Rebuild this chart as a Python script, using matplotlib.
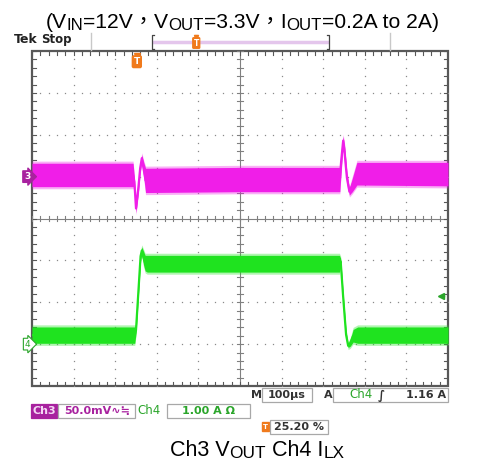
import matplotlib
matplotlib.use('Agg')
import matplotlib.pyplot as plt
import numpy as np
from matplotlib.patches import Rectangle
from matplotlib.transforms import blended_transform_factory

# ---------------- data ----------------
time_div_us = 100          # M 100us
n_xdiv, n_ydiv = 10, 8
ch3_mv_div = 50.0          # Ch3 50.0 mV/div
ch4_a_div = 1.0            # Ch4 1.00 A/div
ch3_pos_div = 1            # Ch3 ground marker position (div above centre)
ch4_pos_div = -3           # Ch4 ground marker position
trig_level_a = 1.16
trig_pos_pct = 25.20

# Ch3 VOUT ripple envelope (us, mV)
ch3_t  = [0, 243, 246, 250, 256, 260, 264, 268, 273, 500, 740, 743, 748, 752, 757, 763, 770, 781, 1000]
ch3_hi = [16, 16, 0, -33, -5, 15, 26, 18, 10, 11, 11, 30, 48, 35, 5, -14, -2, 17, 17]
ch3_lo = [-12, -12, -12, -43, -18, 5, 18, 2, -19, -18, -18, 5, 38, 15, -8, -22, -18, -10, -11]

# Ch4 ILX envelope (us, A)
ch4_t  = [0, 247, 250, 256, 261, 264, 268, 272, 277, 739, 742, 748, 755, 760, 765, 772, 783, 1000]
ch4_hi = [0.41, 0.41, 0.42, 1.40, 2.20, 2.32, 2.22, 2.12, 2.12, 2.12, 2.05, 1.20, 0.30, 0.00, 0.10, 0.35, 0.41, 0.41]
ch4_lo = [0.02, 0.02, 0.25, 1.20, 2.00, 2.15, 1.90, 1.75, 1.72, 1.72, 1.90, 1.05, 0.15, -0.08, -0.05, 0.05, 0.02, 0.02]

title_pieces = [("(V", 0), ("IN", 1), ("=12V，V", 0), ("OUT", 1), ("=3.3V，I", 0), ("OUT", 1), ("=0.2A to 2A)", 0)]
caption_pieces = [("Ch3 V", 0), ("OUT", 1), (" Ch4 I", 0), ("LX", 1)]

# ---------------- figure ----------------
W, H = 478, 463
fig = plt.figure(figsize=(W / 100, H / 100), dpi=100)
fig.patch.set_facecolor('white')

def fx(x):
    return x / W

def fy(y):
    return 1 - y / H

L, T, R, B = 32, 51, 448, 386
rect = [fx(L), fy(B), (R - L) / W, (B - T) / H]

MAG = '#f01ee8'
MAGD = '#a8229f'
GRN = '#1fe31f'
GRND = '#2aa52a'
ORG = '#f07a1c'
GRID = '#8a8a8a'
FRAME = '#585858'

# graticule
ax_g = fig.add_axes(rect)
ax_g.set_xlim(0, n_xdiv)
ax_g.set_ylim(0, n_ydiv)
ax_g.axis('off')
sub = 0.2
for k in range(1, n_xdiv):
    if k == n_xdiv // 2:
        continue
    ys = np.arange(0, n_ydiv + 1e-9, sub)
    ax_g.plot(np.full_like(ys, k), ys, ls='none', marker='s', ms=0.9, mew=0, color=GRID)
for j in range(1, n_ydiv):
    if j == n_ydiv // 2:
        continue
    xs = np.arange(0, n_xdiv + 1e-9, sub)
    ax_g.plot(xs, np.full_like(xs, j), ls='none', marker='s', ms=0.9, mew=0, color=GRID)
# centre cross with ticks
cx, cy = n_xdiv / 2, n_ydiv / 2
ax_g.plot([cx, cx], [0, n_ydiv], color='#808080', lw=0.8)
ax_g.plot([0, n_xdiv], [cy, cy], color='#808080', lw=0.8)
tl = 0.07
for y in np.arange(0, n_ydiv + 1e-9, sub):
    ax_g.plot([cx - tl, cx + tl], [y, y], color='#808080', lw=0.8)
    ax_g.plot([0, tl * 1.3], [y, y], color=FRAME, lw=0.8)
    ax_g.plot([n_xdiv - tl * 1.3, n_xdiv], [y, y], color=FRAME, lw=0.8)
for x in np.arange(0, n_xdiv + 1e-9, sub):
    ax_g.plot([x, x], [cy - tl, cy + tl], color='#808080', lw=0.8)
    ax_g.plot([x, x], [0, tl * 1.3], color=FRAME, lw=0.8)
    ax_g.plot([x, x], [n_ydiv - tl * 1.3, n_ydiv], color=FRAME, lw=0.8)
ax_g.add_patch(Rectangle((0, 0), n_xdiv, n_ydiv, fill=False, ec=FRAME, lw=1.6, clip_on=False))

# trace axes
tmax = n_xdiv * time_div_us
ax3 = fig.add_axes(rect, facecolor='none')
ax3.set_xlim(0, tmax)
ax3.set_ylim((-n_ydiv / 2 - ch3_pos_div) * ch3_mv_div, (n_ydiv / 2 - ch3_pos_div) * ch3_mv_div)
ax3.axis('off')
ax4 = fig.add_axes(rect, facecolor='none')
ax4.set_xlim(0, tmax)
ax4.set_ylim((-n_ydiv / 2 - ch4_pos_div) * ch4_a_div, (n_ydiv / 2 - ch4_pos_div) * ch4_a_div)
ax4.axis('off')

def trace(ax, t, hi, lo, col, pad):
    t = np.array(t, float); hi = np.array(hi, float); lo = np.array(lo, float)
    ax.fill_between(t, hi + pad, lo - pad, color=col, alpha=0.35, lw=0)
    ax.fill_between(t, hi, lo, color=col, lw=0)
    ax.plot(t, (hi + lo) / 2, color=col, lw=1.6)

trace(ax3, ch3_t, ch3_hi, ch3_lo, MAG, 2.5)
trace(ax4, ch4_t, ch4_hi, ch4_lo, GRN, 0.05)

# channel ground markers
bt3 = blended_transform_factory(ax3.transAxes, ax3.transData)
ax3.text(-0.004, 0, '3', transform=bt3, ha='right', va='center', fontsize=6.5, fontweight='bold', color='white',
         bbox=dict(boxstyle='rarrow,pad=0.15', fc=MAGD, ec=MAGD, lw=0.8), clip_on=False)
bt4 = blended_transform_factory(ax4.transAxes, ax4.transData)
ax4.text(-0.004, 0, '4', transform=bt4, ha='right', va='center', fontsize=6.5, color=GRND,
         bbox=dict(boxstyle='rarrow,pad=0.15', fc='white', ec=GRND, lw=0.8), clip_on=False)
# trigger level arrow
ax4.plot([0.982], [trig_level_a], transform=bt4, marker='<', ms=4, color=GRND, clip_on=False)
ax4.plot([0.982, 0.99], [trig_level_a, trig_level_a], transform=bt4, color=GRND, lw=1, clip_on=False)

# trigger position marker
tp = trig_pos_pct / 100
ax_g.plot([tp], [0.985], transform=ax_g.transAxes, marker='v', ms=4, color=ORG, clip_on=False)
ax_g.text(tp, 0.968, 'T', transform=ax_g.transAxes, ha='center', va='center', fontsize=6.5, fontweight='bold',
          color='white', bbox=dict(boxstyle='round,pad=0.15', fc=ORG, ec=ORG))

# header
fig.text(fx(14), fy(43), 'Tek', fontsize=9, fontweight='bold', color='#222222', va='baseline', ha='left',
         family='DejaVu Sans')
fig.text(fx(41), fy(43), 'Stop', fontsize=8.5, fontweight='bold', color='#222222', va='baseline', ha='left',
         family='DejaVu Sans')
for xs in (91, 390):
    fig.add_artist(plt.Line2D([fx(xs), fx(xs)], [fy(33), fy(50)], color='#c8c8c8', lw=1))
fig.add_artist(plt.Line2D([fx(154), fx(327)], [fy(42), fy(42)], color='#e4c6ec', lw=2.5))
for xb, d in ((152, 1), (329, -1)):
    fig.add_artist(plt.Line2D([fx(xb + 2 * d), fx(xb), fx(xb), fx(xb + 2 * d)], [fy(35), fy(35), fy(49), fy(49)],
                              color='#444444', lw=0.9))
xh = 152 + (329 - 152) * 0.25
fig.add_artist(plt.Line2D([fx(xh)], [fy(37)], marker='v', ms=3, color=ORG))
fig.text(fx(xh), fy(43), 'T', fontsize=5.5, fontweight='bold', color='white', ha='center', va='center',
         bbox=dict(boxstyle='round,pad=0.1', fc=ORG, ec=ORG))

# readouts
RF = dict(fontsize=8, fontweight='bold', family='DejaVu Sans', va='center')

def box(x0, x1, y, fc='white', ec='#a8a8a8'):
    fig.add_artist(Rectangle((fx(x0), fy(y + 7)), (x1 - x0) / W, 14 / H, transform=fig.transFigure,
                             fc=fc, ec=ec, lw=0.9))

y1, y2, y3 = 395, 411, 427
fig.text(fx(251), fy(y1), 'M', color='#333333', **RF)
box(262, 312, y1)
fig.text(fx(287), fy(y1), f'{time_div_us}µs', color='#333333', ha='center', **RF)
fig.text(fx(324), fy(y1), 'A', color='#333333', **RF)
box(333, 448, y1)
fig.text(fx(349), fy(y1), 'Ch4', color=GRND, fontsize=8.5, family='DejaVu Sans', va='center')
fig.text(fx(378), fy(y1), '∫', color='#333333', fontsize=8.5, fontweight='bold', style='italic', va='center')
fig.text(fx(446), fy(y1), f'{trig_level_a:.2f} A', color='#333333', ha='right', **RF)

box(31, 57, y2, fc=MAGD, ec=MAGD)
fig.text(fx(44), fy(y2), 'Ch3', color='#f4d8f4', ha='center', **RF)
box(58, 135, y2)
fig.text(fx(64), fy(y2), f'{ch3_mv_div:.1f}mV∿≒', color=MAGD, ha='left', **RF)
fig.text(fx(137), fy(y2), 'Ch4', color=GRND, fontsize=8.5, family='DejaVu Sans', va='center')
box(167, 250, y2)
fig.text(fx(208), fy(y2), f'{ch4_a_div:.2f} A Ω', color=GRND, ha='center', **RF)

fig.add_artist(Rectangle((fx(262), fy(y3 + 4)), 7 / W, 9 / H, transform=fig.transFigure, fc=ORG, ec=ORG))
fig.text(fx(265.5), fy(y3), 'T', color='white', fontsize=5, fontweight='bold', ha='center', va='center')
box(270, 328, y3)
fig.text(fx(274), fy(y3), f'{trig_pos_pct:.2f} %', color='#333333', ha='left', **RF)

# title / caption with subscripts
FAM = ['Liberation Sans', 'Noto Sans CJK TC']
r = fig.canvas.get_renderer()

def rich(pieces, xc, yb, size, subr=0.8, sdy=2.5):
    objs = []
    total = 0
    for s, issub in pieces:
        t = fig.text(0, 0, s, fontsize=size * (subr if issub else 1.0), family=FAM, va='baseline', ha='left',
                     color='black')
        w = t.get_window_extent(r).width
        objs.append((t, w, issub))
        total += w
    x = xc - total / 2
    for t, w, issub in objs:
        t.set_position((fx(x), fy(yb + (sdy if issub else 0))))
        x += w

rich(title_pieces, 242, 27.5, 15.2)
rich(caption_pieces, 257, 456, 15.5, sdy=2)

fig.savefig('out.png', dpi=100, facecolor='white')
